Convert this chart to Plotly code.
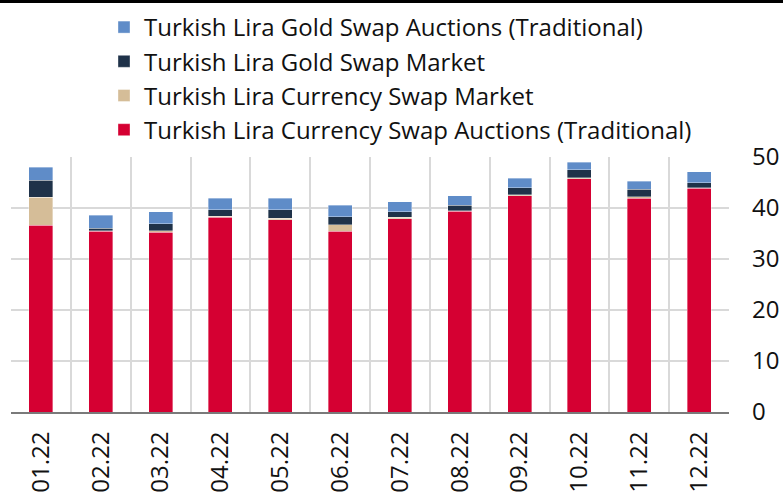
import plotly.graph_objects as go

months = ["01.22", "02.22", "03.22", "04.22", "05.22", "06.22",
          "07.22", "08.22", "09.22", "10.22", "11.22", "12.22"]
fx_auctions = [36.6, 35.4, 35.2, 38.2, 37.7, 35.4, 37.9, 39.4, 42.4, 45.7, 41.9, 43.9]
fx_market = [5.5, 0.1, 0.3, 0.2, 0.3, 1.3, 0.3, 0.1, 0.2, 0.2, 0.3, 0.1]
gold_market = [3.3, 0.5, 1.4, 1.3, 1.7, 1.6, 1.1, 1.0, 1.4, 1.6, 1.5, 1.0]
gold_auctions = [2.6, 2.6, 2.4, 2.2, 2.2, 2.2, 1.9, 1.9, 1.8, 1.5, 1.5, 2.1]

series = [
    ("Turkish Lira Currency Swap Auctions (Traditional)", fx_auctions, "#d50032"),
    ("Turkish Lira Currency Swap Market", fx_market, "#d5bd98"),
    ("Turkish Lira Gold Swap Market", gold_market, "#1f3249"),
    ("Turkish Lira Gold Swap Auctions (Traditional)", gold_auctions, "#5f8cc8"),
]

fig = go.Figure()
for i, (name, vals, col) in enumerate(series):
    fig.add_trace(go.Bar(
        x=months, y=vals, name=name, legendgroup=f"g{i}",
        marker=dict(color=col, line=dict(color="rgba(255,255,255,0.6)", width=0.6)),
    ))

L, R, T, B = 11, 54, 157, 81
W, H = 783, 493
pw, ph = W - L - R, H - T - B

fig.update_layout(
    width=W, height=H,
    margin=dict(l=L, r=R, t=T, b=B, autoexpand=False),
    barmode="stack", bargap=0.6,
    plot_bgcolor="white", paper_bgcolor="white",
    font=dict(family="Open Sans", size=24, color="#111111"),
    showlegend=True,
    legend=dict(
        x=(104 - L) / pw, xanchor="left",
        y=(ph + T - 5) / ph, yanchor="top",
        traceorder="reversed", tracegroupgap=4,
        font=dict(family="Open Sans", size=24, color="#111111"),
        itemwidth=30, bgcolor="rgba(0,0,0,0)",
    ),
    xaxis=dict(
        type="category", tickson="boundaries", showgrid=True,
        gridcolor="#d9d9d9", gridwidth=1.5, automargin=False,
        tickangle=-90, ticks="", showline=True, linecolor="#7a7a7a", linewidth=2,
        tickfont=dict(size=24), ticklabelstandoff=8,
    ),
    yaxis=dict(
        side="right", range=[0, 50], dtick=10, showgrid=True, automargin=False,
        gridcolor="#d9d9d9", gridwidth=1.5, zeroline=False,
        ticks="", tickfont=dict(size=24), ticklabelstandoff=22,
    ),
    shapes=[dict(
        type="line", xref="paper", yref="paper",
        x0=-L / pw, x1=(W - L) / pw,
        y0=(H - B - 1.5) / ph, y1=(H - B - 1.5) / ph,
        line=dict(color="black", width=3),
    )],
)

fig.write_html("out.html")
